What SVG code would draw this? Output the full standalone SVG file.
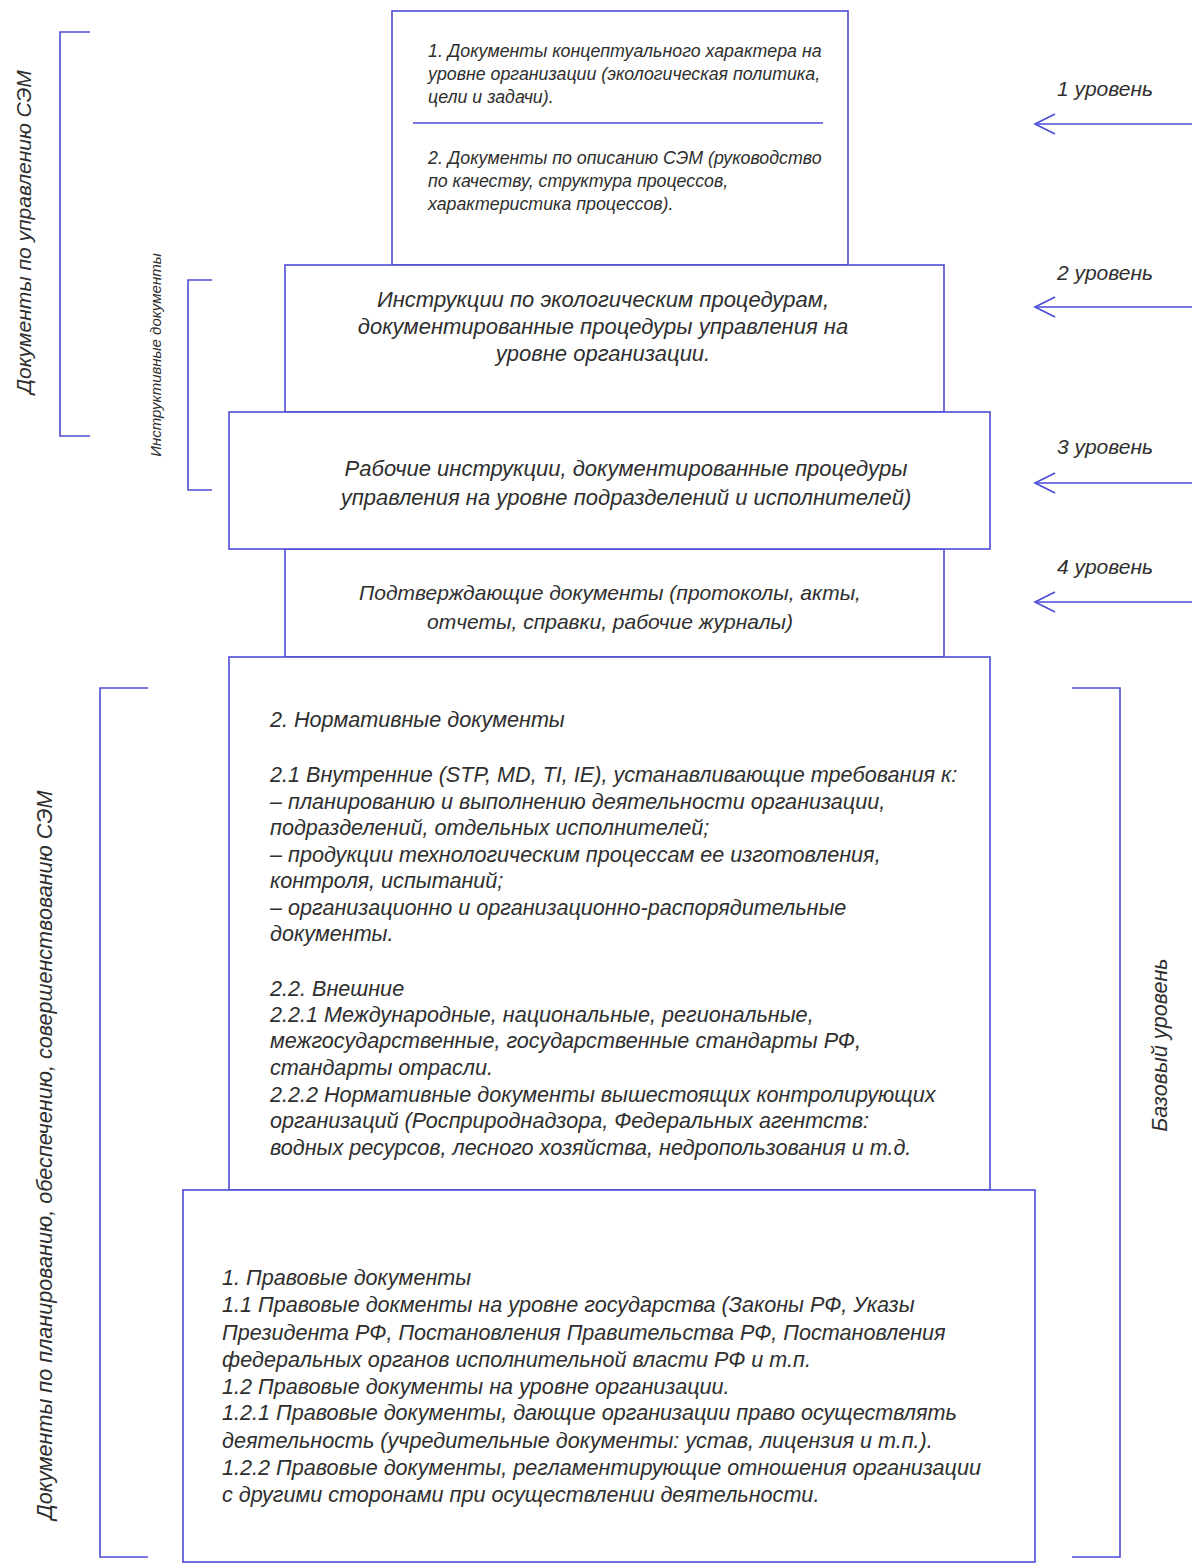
<svg xmlns="http://www.w3.org/2000/svg" width="1192" height="1565" viewBox="0 0 1192 1565">
<style>
  .box { fill: #ffffff; stroke: #4b4bd6; stroke-width: 1.6; }
  .ln { fill: none; stroke: #4b4bd6; stroke-width: 1.6; }
  .t { font-family: "Liberation Sans", Arial, sans-serif; font-style: italic; fill: #2e2e2e; }
  .s18 { font-size: 17.8px; }
  .s22 { font-size: 22px; }
  .s21 { font-size: 21px; }
  .s215 { font-size: 21.6px; }
  .s15 { font-size: 15px; }
  .mid { text-anchor: middle; }
</style>
<defs>
  <marker id="arr" markerWidth="26" markerHeight="26" refX="22" refY="12" orient="auto" markerUnits="userSpaceOnUse">
    <path d="M2,2 L22,12 L2,22" fill="none" stroke="#4b4bd6" stroke-width="1.6"/>
  </marker>
</defs>
<rect width="1192" height="1565" fill="#ffffff"/>

<g id="level1-box">
  <rect class="box" x="392" y="11" width="456" height="254"/>
  <line class="ln" x1="413" y1="123" x2="823" y2="123"/>
  <text class="t s18" x="428" y="57">1. Документы концептуального характера на</text>
  <text class="t s18" x="428" y="80">уровне организации (экологическая политика,</text>
  <text class="t s18" x="428" y="103">цели и задачи).</text>
  <text class="t s18" x="428" y="164">2. Документы по описанию СЭМ (руководство</text>
  <text class="t s18" x="428" y="187">по качеству, структура процессов,</text>
  <text class="t s18" x="428" y="210">характеристика процессов).</text>
</g>

<g id="level2-box">
  <rect class="box" x="285" y="265" width="659" height="147"/>
  <text class="t s22 mid" x="603" y="307">Инструкции по экологическим процедурам,</text>
  <text class="t s22 mid" x="603" y="334">документированные процедуры управления на</text>
  <text class="t s22 mid" x="603" y="361">уровне организации.</text>
</g>

<g id="level4-box">
  <rect class="box" x="285" y="549" width="659" height="108"/>
  <text class="t s21 mid" x="610" y="600">Подтверждающие документы (протоколы, акты,</text>
  <text class="t s21 mid" x="610" y="629">отчеты, справки, рабочие журналы)</text>
</g>

<g id="level3-box">
  <rect class="box" x="229" y="412" width="761" height="137"/>
  <text class="t s22 mid" x="626" y="476">Рабочие инструкции, документированные процедуры</text>
  <text class="t s22 mid" x="626" y="505">управления на уровне подразделений и исполнителей)</text>
</g>

<g id="normative-box">
  <rect class="box" x="229" y="657" width="761" height="533"/>
  <text class="t s215" x="270" y="727">2. Нормативные документы</text>
  <text class="t s215" x="270" y="782">2.1 Внутренние (STP, MD, TI, IE), устанавливающие требования к:</text>
  <text class="t s215" x="270" y="809">– планированию и выполнению деятельности организации,</text>
  <text class="t s215" x="270" y="835">подразделений, отдельных исполнителей;</text>
  <text class="t s215" x="270" y="862">– продукции технологическим процессам ее изготовления,</text>
  <text class="t s215" x="270" y="888">контроля, испытаний;</text>
  <text class="t s215" x="270" y="915">– организационно и организационно-распорядительные</text>
  <text class="t s215" x="270" y="941">документы.</text>
  <text class="t s215" x="270" y="996">2.2. Внешние</text>
  <text class="t s215" x="270" y="1022">2.2.1 Международные, национальные, региональные,</text>
  <text class="t s215" x="270" y="1048">межгосударственные, государственные стандарты РФ,</text>
  <text class="t s215" x="270" y="1075">стандарты отрасли.</text>
  <text class="t s215" x="270" y="1102">2.2.2 Нормативные документы вышестоящих контролирующих</text>
  <text class="t s215" x="270" y="1128">организаций (Росприроднадзора, Федеральных агентств:</text>
  <text class="t s215" x="270" y="1155">водных ресурсов, лесного хозяйства, недропользования и т.д.</text>
</g>

<g id="legal-box">
  <rect class="box" x="183" y="1190" width="852" height="372"/>
  <text class="t s215" x="222" y="1285">1. Правовые документы</text>
  <text class="t s215" x="222" y="1312">1.1 Правовые докменты на уровне государства (Законы РФ, Указы</text>
  <text class="t s215" x="222" y="1340">Президента РФ, Постановления Правительства РФ, Постановления</text>
  <text class="t s215" x="222" y="1367">федеральных органов исполнительной власти РФ и т.п.</text>
  <text class="t s215" x="222" y="1394">1.2 Правовые документы на уровне организации.</text>
  <text class="t s215" x="222" y="1420">1.2.1 Правовые документы, дающие организации право осуществлять</text>
  <text class="t s215" x="222" y="1448">деятельность (учредительные документы: устав, лицензия и т.п.).</text>
  <text class="t s215" x="222" y="1475">1.2.2 Правовые документы, регламентирующие отношения организации</text>
  <text class="t s215" x="222" y="1502">с другими сторонами при осуществлении деятельности.</text>
</g>

<g id="bracket-management">
  <path class="ln" d="M90,32 H60 V436 H90"/>
  <text class="t s21 mid" transform="rotate(-90 31 232)" x="31" y="232">Документы по управлению СЭМ</text>
</g>

<g id="bracket-instructive">
  <path class="ln" d="M212,280 H188 V490 H212"/>
  <text class="t s15 mid" transform="rotate(-90 161 355)" x="161" y="355">Инструктивные документы</text>
</g>

<g id="bracket-planning">
  <path class="ln" d="M148,688 H100 V1557 H148"/>
  <text class="t s215 mid" transform="rotate(-90 52 1155)" x="52" y="1155">Документы по планированию, обеспечению, совершенствованию СЭМ</text>
</g>

<g id="bracket-base">
  <path class="ln" d="M1072,688 H1120 V1557 H1072"/>
  <text class="t s215 mid" transform="rotate(-90 1167 1045)" x="1167" y="1045">Базовый уровень</text>
</g>

<g id="level-labels">
  <text class="t s21 mid" x="1105" y="96">1 уровень</text>
  <text class="t s21 mid" x="1105" y="280">2 уровень</text>
  <text class="t s21 mid" x="1105" y="454">3 уровень</text>
  <text class="t s21 mid" x="1105" y="574">4 уровень</text>
</g>

<g id="connectors">
  <line class="ln" x1="1192" y1="124" x2="1035" y2="124" marker-end="url(#arr)"/>
  <line class="ln" x1="1192" y1="307" x2="1035" y2="307" marker-end="url(#arr)"/>
  <line class="ln" x1="1192" y1="483" x2="1035" y2="483" marker-end="url(#arr)"/>
  <line class="ln" x1="1192" y1="602" x2="1035" y2="602" marker-end="url(#arr)"/>
</g>
</svg>
